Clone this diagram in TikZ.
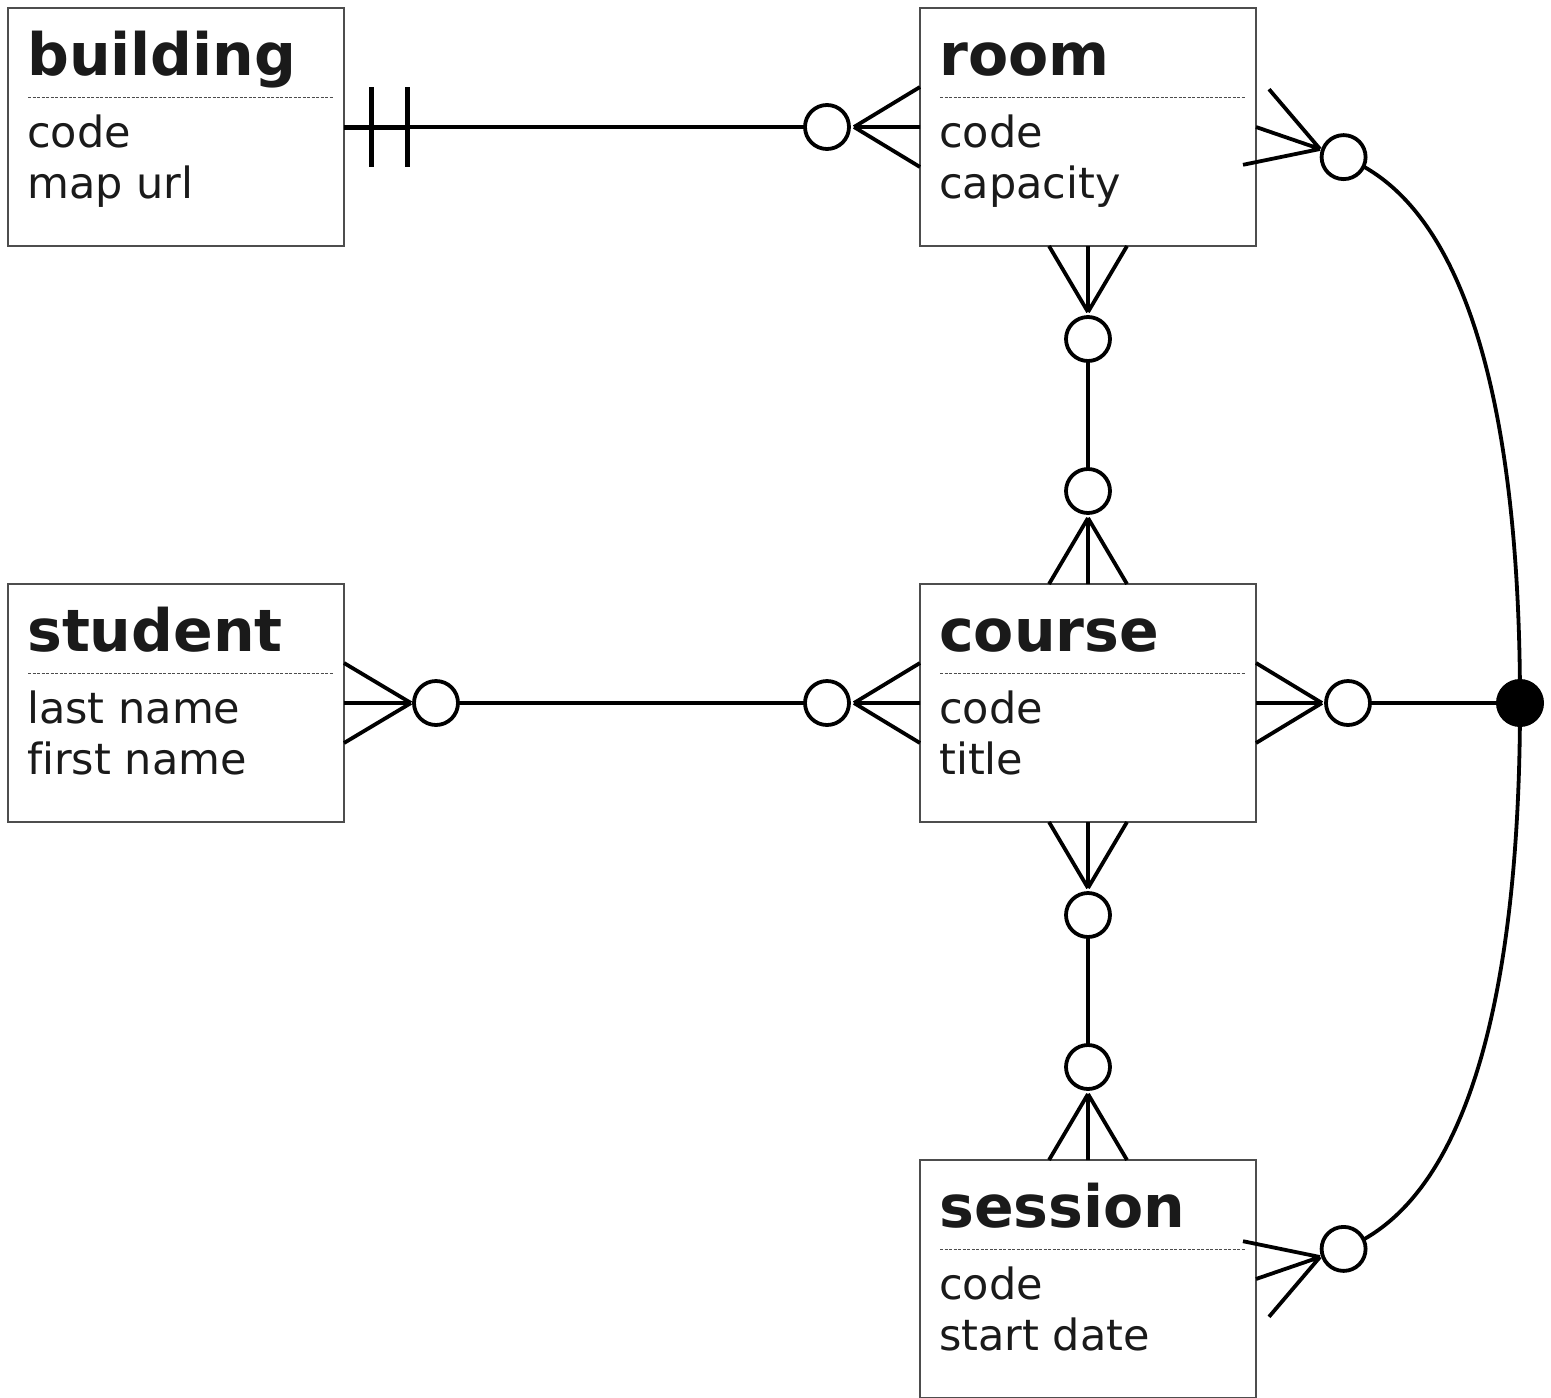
\documentclass[tikz,border=0pt]{standalone}
\usepackage{fontspec}
\setmainfont{DejaVu Sans}[Ligatures={NoCommon}]
\usetikzlibrary{calc}
\definecolor{txt}{HTML}{1A1A1A}
\definecolor{boxc}{HTML}{4D4D4D}
\newcommand\entitybox[6]{%
  \node[entity] (#1) at (#2,#3) {};
  \node[ttl] (#1-title) at ($(#1.north west)+(19,67)$) {#4};
  \draw[sepline] ($(#1.north west)+(20,89)$) -- ($(#1.north east)+(-11,89)$);
  \node[attr] (#1-a1) at ($(#1.north west)+(19,139)$) {#5};
  \node[attr] (#1-a2) at ($(#1.north west)+(19,190)$) {#6};
}
\begin{document}
\begin{tikzpicture}[x=1pt,y=-1pt,
  entity/.style={draw=boxc,line width=1.2pt,minimum width=336pt,minimum height=238pt,inner sep=0pt,outer sep=0pt,anchor=north west},
  ttl/.style={font=\fontsize{58.5}{62}\selectfont\bfseries,text=txt,inner sep=0pt,anchor=base west},
  attr/.style={font=\fontsize{43}{48}\selectfont,text=txt,inner sep=0pt,anchor=base west},
  sepline/.style={draw=boxc,line width=1pt,dash pattern=on 3pt off 1.5pt},
  conn/.style={line width=3.8pt,draw=black},
  bar/.style={line width=5pt,draw=black},
  oc/.style={circle,draw=black,line width=3.8pt,fill=white,minimum size=44pt,inner sep=0pt},
  blackdot/.style={circle,fill=black,minimum size=48pt,inner sep=0pt}]
\useasboundingbox (0,0) rectangle (1551,1398);

% entities
\entitybox{building}{8}{8}{building}{code}{map url}
\entitybox{room}{920}{8}{room}{code}{capacity}
\entitybox{student}{8}{584}{student}{last name}{first name}
\entitybox{course}{920}{584}{course}{code}{title}
\entitybox{session}{920}{1160}{session}{code}{start date}

% junction dot
\node[blackdot] (jn) at (1520,703) {};

% crow's-foot apexes
\coordinate (roomL-ap) at ($(room.west)+(-66,0)$);
\coordinate (studR-ap) at ($(student.east)+(67,0)$);
\coordinate (courseL-ap) at ($(course.west)+(-66,0)$);
\coordinate (courseR-ap) at ($(course.east)+(66,0)$);
\coordinate (roomB-ap) at ($(room.south)+(0,66)$);
\coordinate (courseT-ap) at ($(course.north)+(0,-66)$);
\coordinate (courseB-ap) at ($(course.south)+(0,66)$);
\coordinate (sessT-ap) at ($(session.north)+(0,-66)$);
\coordinate (roomR-ap) at ($(room.east)+(64,22)$);
\coordinate (sessR-ap) at ($(session.east)+(64,-22)$);

% main connectors (drawn first, circles on top)
\draw[conn] (building.east) -- ($(room.west)+(-93,0)$);
\draw[conn] ($(student.east)+(92,0)$) -- ($(course.west)+(-93,0)$);
\draw[conn] ($(room.south)+(0,93)$) -- ($(course.north)+(0,-93)$);
\draw[conn] ($(course.south)+(0,93)$) -- ($(session.north)+(0,-93)$);
\draw[conn] ($(course.east)+(92,0)$) -- (jn.center);
\draw[conn] ($(room.east)+(87.6,30.1)$) .. controls (1480,210) and (1520,450) .. (jn.center);
\draw[conn] (jn.center) .. controls (1520,956) and (1480,1196) .. ($(session.east)+(87.6,-30.1)$);

% mandatory-one bars at building
\draw[bar] ($(building.east)+(27,-40)$) -- ($(building.east)+(27,40)$);
\draw[bar] ($(building.east)+(63,-40)$) -- ($(building.east)+(63,40)$);
\draw[bar] (building.east) -- ($(building.east)+(64,0)$);

% crow's feet
\draw[conn] (roomL-ap) -- (room.west) (roomL-ap) -- ($(room.west)+(0,-40)$) (roomL-ap) -- ($(room.west)+(0,40)$);
\draw[conn] (studR-ap) -- (student.east) (studR-ap) -- ($(student.east)+(0,-40)$) (studR-ap) -- ($(student.east)+(0,40)$);
\draw[conn] (courseL-ap) -- (course.west) (courseL-ap) -- ($(course.west)+(0,-40)$) (courseL-ap) -- ($(course.west)+(0,40)$);
\draw[conn] (courseR-ap) -- (course.east) (courseR-ap) -- ($(course.east)+(0,-40)$) (courseR-ap) -- ($(course.east)+(0,40)$);
\draw[conn] (roomB-ap) -- (room.south) (roomB-ap) -- ($(room.south)+(-39,0)$) (roomB-ap) -- ($(room.south)+(39,0)$);
\draw[conn] (courseT-ap) -- (course.north) (courseT-ap) -- ($(course.north)+(-39,0)$) (courseT-ap) -- ($(course.north)+(39,0)$);
\draw[conn] (courseB-ap) -- (course.south) (courseB-ap) -- ($(course.south)+(-39,0)$) (courseB-ap) -- ($(course.south)+(39,0)$);
\draw[conn] (sessT-ap) -- (session.north) (sessT-ap) -- ($(session.north)+(-39,0)$) (sessT-ap) -- ($(session.north)+(39,0)$);
\draw[conn] (roomR-ap) -- (room.east) (roomR-ap) -- ($(room.east)+(-13,37.8)$) (roomR-ap) -- ($(room.east)+(13,-37.8)$);
\draw[conn] (sessR-ap) -- (session.east) (sessR-ap) -- ($(session.east)+(-13,-37.8)$) (sessR-ap) -- ($(session.east)+(13,37.8)$);

% optional circles
\node[oc] (roomL-c) at ($(room.west)+(-93,0)$) {};
\node[oc] (studR-c) at ($(student.east)+(92,0)$) {};
\node[oc] (courseL-c) at ($(course.west)+(-93,0)$) {};
\node[oc] (courseR-c) at ($(course.east)+(92,0)$) {};
\node[oc] (roomB-c) at ($(room.south)+(0,93)$) {};
\node[oc] (courseT-c) at ($(course.north)+(0,-93)$) {};
\node[oc] (courseB-c) at ($(course.south)+(0,93)$) {};
\node[oc] (sessT-c) at ($(session.north)+(0,-93)$) {};
\node[oc] (roomR-c) at ($(room.east)+(87.6,30.1)$) {};
\node[oc] (sessR-c) at ($(session.east)+(87.6,-30.1)$) {};
\end{tikzpicture}
\end{document}
